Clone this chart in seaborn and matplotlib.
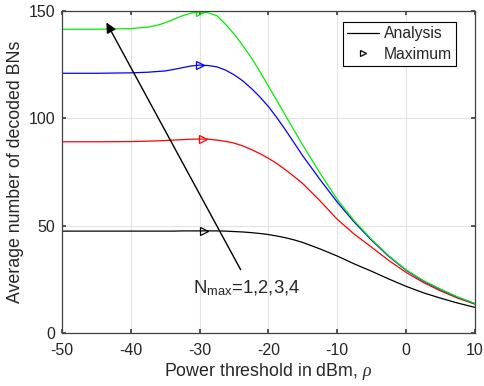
import numpy as np
import pandas as pd
import matplotlib
matplotlib.use('Agg')
import matplotlib.pyplot as plt
import seaborn as sns
from matplotlib.lines import Line2D

sns.set_theme(style='ticks')
plt.rcParams['font.family'] = ['Liberation Sans', 'DejaVu Sans']
plt.rcParams['mathtext.fontset'] = 'custom'
plt.rcParams['mathtext.rm'] = 'Liberation Sans'
plt.rcParams['mathtext.it'] = 'Liberation Serif:italic'
plt.rcParams['axes.unicode_minus'] = False

# === dados ===
rho = [-50, -45, -40, -37.5, -36.25, -35, -33.75, -32.5, -31.25, -30, -28.75, -27.5,
       -26.25, -25, -23.75, -22.5, -21.25, -20, -18.75, -17.5, -16.25,
       -15, -12.5, -10, -7.5, -5, -2.5, 0, 2.5, 5, 7.5, 10]
n1 = [47.5, 47.5, 47.5, 47.5, 47.5, 47.5, 47.5, 47.6, 47.6, 47.6, 47.6, 47.6,
      47.5, 47.3, 47.1, 46.8, 46.4, 45.9, 45.2, 44.4, 43.4,
      42.2, 39.2, 35.9, 32.2, 28.8, 25.2, 21.8, 18.8, 16.3, 14.0, 12.0]
n2 = [89.1, 89.1, 89.2, 89.4, 89.5, 89.7, 89.9, 90.1, 90.3, 90.4, 90.3, 89.9,
      89.3, 88.5, 87.2, 85.5, 83.6, 81.4, 78.9, 76.0, 72.9,
      69.6, 61.6, 53.0, 46.0, 40.0, 33.8, 28.3, 23.6, 19.7, 16.3, 13.5]
n3 = [121.0, 121.0, 121.2, 121.5, 121.8, 122.1, 122.8, 123.6, 124.4, 124.8, 124.6, 124.0,
      122.5, 120.3, 117.5, 114.0, 110.0, 105.5, 100.2, 94.5, 88.5,
      82.5, 71.5, 61.0, 51.6, 43.2, 35.7, 29.3, 24.3, 20.3, 16.7, 13.7]
n4 = [141.5, 141.5, 141.8, 142.5, 143.3, 144.5, 146.2, 147.8, 149.0, 149.6, 149.2, 147.8,
      143.9, 139.3, 134.0, 128.3, 121.8, 115.0, 108.2, 101.2, 94.3,
      87.5, 74.5, 62.3, 52.2, 43.6, 36.0, 29.5, 24.5, 20.5, 16.8, 13.8]
cores = ['black', 'red', 'blue', '#00ee00']

max_rho = [-29.4, -29.5, -30.0, -30.0]
max_val = [47.6, 90.4, 124.8, 149.6]

df = pd.DataFrame({'rho': rho * 4,
                   'val': n1 + n2 + n3 + n4,
                   'N': sum([[k] * len(rho) for k in range(1, 5)], [])})

fig, ax = plt.subplots(figsize=(4.85, 3.86), dpi=100)
fig.subplots_adjust(left=0.128, right=0.979, bottom=0.137, top=0.9715)

for k, c in zip(range(1, 5), cores):
    sns.lineplot(data=df[df['N'] == k], x='rho', y='val', color=c, lw=0.9, ax=ax)
    ax.plot(max_rho[k - 1], max_val[k - 1], marker='>', ms=5.5, mfc='none', mec=c, mew=0.9)

ax.set_xlim(-50, 10)
ax.set_ylim(0, 150)
ax.set_xticks(np.arange(-50, 11, 10))
ax.set_yticks([0, 50, 100, 150])
ax.grid(True, color='#e3e3e3', lw=0.8)
ax.tick_params(direction='in', top=True, right=True, length=3, labelsize=11.5,
               color='#404040', labelcolor='#262626')
ax.tick_params(axis='x', pad=7)
ax.tick_params(axis='y', pad=5)
for s in ax.spines.values():
    s.set_color('#404040')
    s.set_linewidth(0.9)
ax.set_xlabel(r'Power threshold in dBm, $\it{\rho}$', fontsize=12.8, color='#262626', labelpad=2)
ax.set_ylabel('Average number of decoded BNs', fontsize=12.8, color='#262626', labelpad=3)

ax.annotate('', xy=(-43.75, 145.8), xytext=(-23.85, 28.4),
            arrowprops=dict(arrowstyle='-|>', color='black', lw=1.0, mutation_scale=15))
ax.text(-31.0, 21.0, r'N$_{\mathrm{max}}$=1,2,3,4', fontsize=13.3, va='center', ha='left')

handles = [Line2D([], [], color='black', lw=0.9),
           Line2D([], [], color='black', lw=0, marker='>', ms=5, mfc='none', mew=0.9)]
leg = ax.legend(handles, ['Analysis', 'Maximum'], loc='upper right',
                bbox_to_anchor=(0.955, 0.965), fontsize=11.3, frameon=True, fancybox=False,
                framealpha=1, edgecolor='black', borderpad=0.25, labelspacing=0.35,
                handlelength=2.1, handletextpad=0.3, borderaxespad=0)
leg.get_frame().set_linewidth(0.8)

plt.savefig('out.png', dpi=100)
